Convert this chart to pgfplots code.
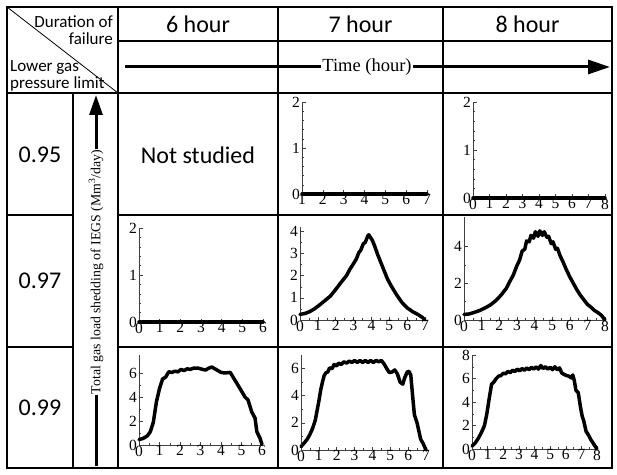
\documentclass[border=0pt]{standalone}
\usepackage{fontspec}
\setmainfont{Liberation Serif}
\newfontfamily\calfont{Carlito}
\usepackage{pgfplots}
\pgfplotsset{compat=1.18}
\usetikzlibrary{arrows.meta}
\pgfplotsset{
  cell/.style={scale only axis, anchor=south west, axis x line=bottom, axis y line=left,
    axis line style={-, line width=0.6pt, black!75}, tick style={black!75, line width=0.5pt},
    major tick length=3.5pt, minor tick length=1.8pt, tick align=inside,
    ticklabel style={font=\fontsize{15.5}{15.5}\selectfont, inner sep=0.5pt},
    yticklabel style={xshift=-1.5pt},
    /pgf/number format/assume math mode=true, enlargelimits=false, clip=false,
    minor x tick num=1, ymin=0},
  data/.style={black, line width=3.5pt, line join=round, line cap=round, no marks}
}
\begin{document}
\begin{tikzpicture}[x=1pt,y=1pt]
\useasboundingbox (0,0) rectangle (617,474);
% table grid
\begin{scope}[line width=1.6pt]
\draw (7,467) rectangle (612,6);
\draw (118,467) -- (118,6);
\draw (278,467) -- (278,6);
\draw (443,467) -- (443,6);
\draw (73,381) -- (73,6);
\draw (118,433) -- (612,433);
\draw (7,381) -- (612,381);
\draw (7,259) -- (73,259); \draw (118,259) -- (612,259);
\draw (7,127) -- (73,127); \draw (118,127) -- (612,127);
\draw[line width=0.8pt] (7,467) -- (118,381);
\end{scope}
% header texts
\node[anchor=base east, inner sep=0pt, font=\calfont\fontsize{17}{17}\selectfont] at (113,446) {Duration of};
\node[anchor=base east, inner sep=0pt, font=\calfont\fontsize{17}{17}\selectfont] at (113,429) {failure};
\node[anchor=base west, inner sep=0pt, font=\calfont\fontsize{17}{17}\selectfont] at (10,402) {Lower gas};
\node[anchor=base west, inner sep=0pt, font=\calfont\fontsize{17}{17}\selectfont] at (10,385) {pressure limit};
\node[font=\calfont\fontsize{24}{24}\selectfont] at (198,450) {6 hour};
\node[font=\calfont\fontsize{24}{24}\selectfont] at (360.5,450) {7 hour};
\node[font=\calfont\fontsize{24}{24}\selectfont] at (527.5,450) {8 hour};
\node[font=\calfont\fontsize{24}{24}\selectfont] at (40,319) {0.95};
\node[font=\calfont\fontsize{24}{24}\selectfont] at (40,193) {0.97};
\node[font=\calfont\fontsize{24}{24}\selectfont] at (40,66) {0.99};
\node[font=\calfont\fontsize{24}{24}\selectfont] at (198,319) {Not studied};
% arrows
\draw[line width=3pt, -{Triangle[length=22pt,width=14pt]}] (125,407) -- (610,407);
\node[fill=white, inner sep=1pt, font=\fontsize{18.5}{18.5}\selectfont] at (367,407) {Time (hour)};
\draw[line width=3pt, -{Triangle[length=20pt,width=13pt]}] (96,8) -- (96,379);
\node[fill=white, inner sep=1pt, rotate=90, font=\fontsize{13.8}{13.8}\selectfont] at (96,202) {Total gas load shedding of IEGS (Mm\textsuperscript{3}/day)};
% plots
\begin{axis}[cell, at={(302pt,280pt)}, width=125pt, height=92pt, xmin=1, xmax=7, ymax=2, xtick={1,...,7}, ytick={0,1,2}, minor y tick num=4]
\addplot[data] coordinates {(1,0) (7,0)};
\end{axis}
\begin{axis}[cell, at={(473pt,276pt)}, width=132pt, height=96pt, xmin=0, xmax=8, ymax=2, xtick={0,...,8}, ytick={0,1,2}, minor y tick num=4]
\addplot[data] coordinates {(0,0) (8,0)};
\end{axis}
\begin{axis}[cell, at={(139pt,152pt)}, width=124pt, height=94pt, xmin=0, xmax=6, ymax=2, xtick={0,...,6}, ytick={0,1,2}, minor y tick num=4]
\addplot[data] coordinates {(0,0) (6,0)};
\end{axis}
\begin{axis}[cell, at={(300pt,154pt)}, width=125pt, height=93pt, xmin=0, xmax=7, ymax=4.2, xtick={0,...,7}, ytick={0,...,4}, minor y tick num=1]
\addplot[data] coordinates {(0,0.25) (0.3,0.3) (0.55,0.38) (0.8,0.5) (1.1,0.68) (1.4,0.88) (1.7,1.08) (2.0,1.38) (2.3,1.7) (2.6,2.0) (2.8,2.3) (3.0,2.55) (3.15,2.75) (3.3,3.05) (3.4,3.15) (3.55,3.45) (3.65,3.5) (3.8,3.8) (3.85,3.85) (4.05,3.6) (4.2,3.3) (4.35,2.95) (4.5,2.65) (4.7,2.25) (4.9,1.85) (5.1,1.55) (5.4,1.15) (5.7,0.8) (6.0,0.55) (6.3,0.38) (6.6,0.25) (6.85,0.12) (7,0)};
\end{axis}
\begin{axis}[cell, at={(464pt,154pt)}, width=141pt, height=103pt, xmin=0, xmax=8, ymax=5.6, xtick={0,...,8}, ytick={0,2,4}, minor y tick num=1]
\addplot[data] coordinates {(0,0.3) (0.3,0.33) (0.6,0.42) (0.9,0.52) (1.2,0.66) (1.5,0.82) (1.8,1.05) (2.1,1.35) (2.4,1.72) (2.6,2.1) (2.8,2.45) (3.0,2.95) (3.15,3.25) (3.3,3.75) (3.45,3.85) (3.55,4.3) (3.7,4.25) (3.8,4.6) (3.95,4.45) (4.05,4.8) (4.2,4.55) (4.3,4.85) (4.45,4.6) (4.55,4.8) (4.7,4.5) (4.8,4.55) (4.95,4.15) (5.05,4.25) (5.2,3.85) (5.3,3.9) (5.45,3.5) (5.6,3.2) (5.8,2.75) (6.0,2.35) (6.2,2.0) (6.4,1.65) (6.6,1.35) (6.8,1.1) (7.0,0.85) (7.2,0.7) (7.4,0.52) (7.6,0.4) (7.8,0.25) (8,0)};
\end{axis}
\begin{axis}[cell, at={(139pt,29pt)}, width=123pt, height=90pt, xmin=0, xmax=6, ymax=7.5, xtick={0,...,6}, ytick={0,2,4,6}, minor y tick num=1]
\addplot[data] coordinates {(0,0.45) (0.2,0.55) (0.4,0.75) (0.55,1.1) (0.7,1.9) (0.85,3.6) (1.0,4.7) (1.15,5.5) (1.3,5.65) (1.45,6.1) (1.6,6.05) (1.75,6.15) (1.9,6.1) (2.05,6.3) (2.2,6.2) (2.35,6.35) (2.5,6.3) (2.65,6.4) (2.9,6.4) (3.1,6.3) (3.25,6.25) (3.4,6.4) (3.55,6.5) (3.7,6.35) (3.85,6.2) (4.0,6.05) (4.2,6.0) (4.45,6.05) (4.68,5.4) (4.93,4.7) (5.17,4.0) (5.32,3.75) (5.5,2.75) (5.66,2.25) (5.75,1.1) (5.9,0.58) (6,0.05)};
\end{axis}
\begin{axis}[cell, at={(301pt,24pt)}, width=125pt, height=95pt, xmin=0, xmax=7, ymax=7, xtick={0,...,7}, ytick={0,2,4,6}, minor y tick num=1]
\addplot[data] coordinates {(0,0.25) (0.2,0.55) (0.35,0.8) (0.5,1.15) (0.65,1.6) (0.8,2.2) (0.9,2.9) (1.0,3.6) (1.1,4.4) (1.2,5.0) (1.3,5.5) (1.4,5.7) (1.5,5.75) (1.6,6.05) (1.75,6.0) (1.85,6.3) (2.0,6.2) (2.1,6.4) (2.25,6.3) (2.4,6.5) (2.55,6.4) (2.7,6.55) (2.85,6.45) (3.0,6.6) (3.15,6.45) (3.3,6.6) (3.45,6.45) (3.6,6.6) (3.75,6.45) (3.9,6.6) (4.05,6.45) (4.2,6.6) (4.35,6.5) (4.5,6.6) (4.65,6.35) (4.8,6.0) (4.95,5.7) (5.1,5.75) (5.25,5.9) (5.4,5.6) (5.55,5.0) (5.7,4.85) (5.8,5.3) (5.95,5.75) (6.05,5.8) (6.15,5.5) (6.25,4.0) (6.35,2.6) (6.5,2.0) (6.6,1.4) (6.7,0.8) (6.85,0.45) (7,0)};
\end{axis}
\begin{axis}[cell, at={(472pt,25pt)}, width=125pt, height=94pt, xmin=0, xmax=8, ymax=8, xtick={0,...,8}, ytick={0,2,4,6,8}, minor y tick num=1]
\addplot[data] coordinates {(0,0.25) (0.2,0.5) (0.4,0.9) (0.6,1.4) (0.8,2.0) (0.95,3.0) (1.1,4.3) (1.25,5.5) (1.4,5.7) (1.55,6.0) (1.7,6.2) (1.85,6.25) (2.0,6.45) (2.15,6.4) (2.3,6.6) (2.45,6.5) (2.6,6.7) (2.75,6.6) (2.9,6.8) (3.05,6.65) (3.2,6.85) (3.35,6.7) (3.5,6.9) (3.65,6.75) (3.8,6.95) (3.95,6.8) (4.1,7.0) (4.25,6.8) (4.4,7.1) (4.55,6.85) (4.7,7.0) (4.85,6.8) (5.0,6.95) (5.15,6.75) (5.3,7.0) (5.45,6.75) (5.6,6.9) (5.75,6.45) (5.9,6.35) (6.05,6.25) (6.2,6.2) (6.35,6.05) (6.45,6.3) (6.55,5.8) (6.65,5.0) (6.8,4.8) (6.95,3.5) (7.05,2.8) (7.15,2.4) (7.3,1.5) (7.45,1.2) (7.6,0.8) (7.8,0.4) (8,0)};
\end{axis}
\end{tikzpicture}
\end{document}
